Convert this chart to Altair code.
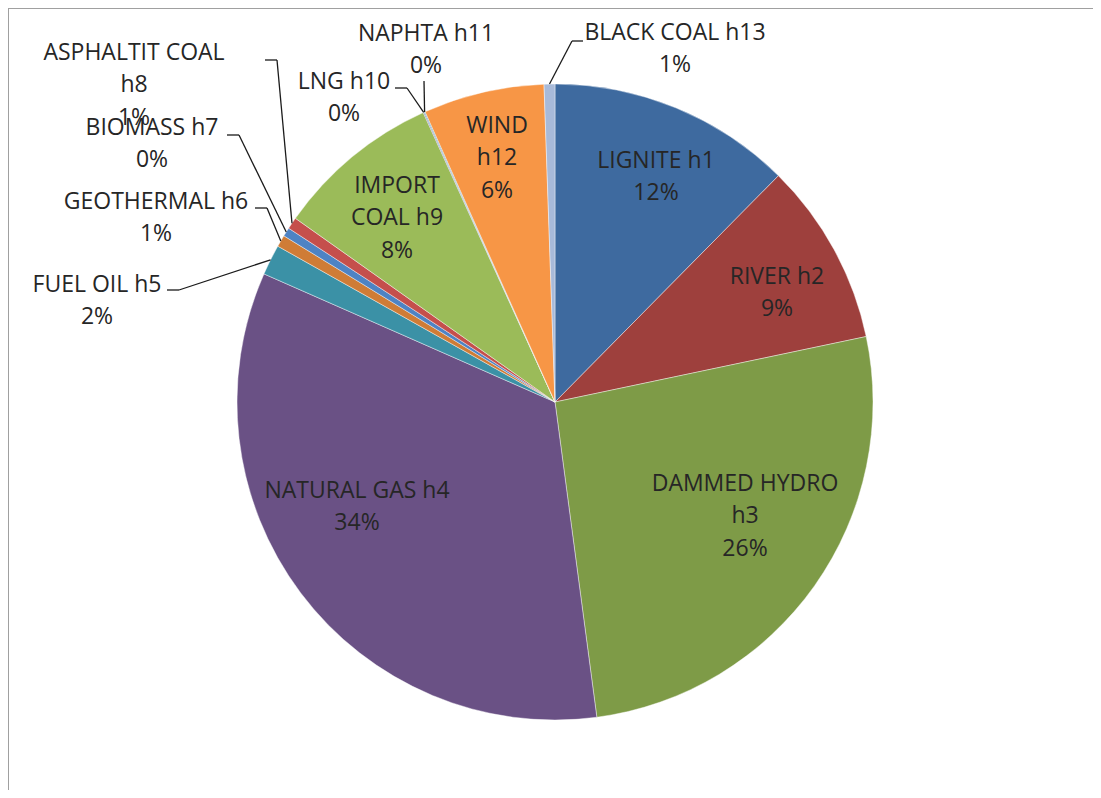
import math
import altair as alt
import pandas as pd

# ---------------- data ----------------
sources = ["LIGNITE h1", "RIVER h2", "DAMMED HYDRO h3", "NATURAL GAS h4",
           "FUEL OIL h5", "GEOTHERMAL h6", "BIOMASS h7", "ASPHALTIT COAL h8",
           "IMPORT COAL h9", "LNG h10", "NAPHTA h11", "WIND h12", "BLACK COAL h13"]
shares = [12.4, 9.3, 26.2, 33.7, 1.55, 0.6, 0.45, 0.6, 8.4, 0.05, 0.05, 6.15, 0.55]
label_names = ["LIGNITE h1", "RIVER h2", "DAMMED HYDRO\nh3", "NATURAL GAS h4",
               "FUEL OIL h5", "GEOTHERMAL h6", "BIOMASS h7", "ASPHALTIT COAL\nh8",
               "IMPORT\nCOAL h9", "LNG h10", "NAPHTA h11", "WIND\nh12", "BLACK COAL h13"]
colors = ["#3E6A9F", "#9E403D", "#7E9B47", "#6A5185", "#3B91A6", "#CF7C36",
          "#4E83C4", "#C54F4C", "#9BBB59", "#8064A2", "#4BACC6", "#F79646", "#A8BAD9"]

# ---------------- layout (page pixels) ----------------
M = 8                       # page margin
W, H = 1085, 782            # chart size
CX, CY, R = 555 - M, 402 - M, 318
LH = 32.5                   # label line height
# label block centres (page coords)
label_pos = {
    "LIGNITE h1": (656, 177), "RIVER h2": (777, 293), "DAMMED HYDRO h3": (745, 516),
    "NATURAL GAS h4": (357, 507), "FUEL OIL h5": (97, 301), "GEOTHERMAL h6": (156, 218),
    "BIOMASS h7": (152, 144), "ASPHALTIT COAL h8": (134, 85), "IMPORT COAL h9": (397, 218),
    "LNG h10": (344, 98), "NAPHTA h11": (426, 50), "WIND h12": (497, 158),
    "BLACK COAL h13": (675, 49),
}
# leader lines: label-side start, elbow (page coords); pie end comes from the data
leaders = {
    "FUEL OIL h5": [(167, 290), (179, 290)],
    "GEOTHERMAL h6": [(255, 208), (267, 208)],
    "BIOMASS h7": [(227, 135), (239, 135)],
    "ASPHALTIT COAL h8": [(265, 60), (277, 60)],
    "LNG h10": [(395, 88), (407, 88)],
    "NAPHTA h11": [(424, 81), (424, 81)],
    "BLACK COAL h13": [(583, 41), (572, 41)],
}

total = sum(shares)
pct = [f"{math.floor(v / total * 100 + 0.5)}%" for v in shares]
texts = [n + "\n" + p for n, p in zip(label_names, pct)]

df = pd.DataFrame({"source": sources, "share": shares, "idx": range(len(sources))})

lab = pd.DataFrame({
    "text": texts,
    "lx": [label_pos[s][0] - M for s in sources],
    "ly": [label_pos[s][1] - M - (t.count("\n")) * LH / 2 for s, t in zip(sources, texts)],
})

# leader line segments
cum = 0.0
mids = {}
for s, v in zip(sources, shares):
    mids[s] = (cum + v / 2) / total * 2 * math.pi
    cum += v
segs = []
for s, pts in leaders.items():
    a = mids[s]
    ex, ey = CX + R * math.sin(a), CY - R * math.cos(a)
    (x0, y0), (x1, y1) = pts
    segs.append({"x": x0 - M, "y": y0 - M, "x2": x1 - M, "y2": y1 - M})
    segs.append({"x": x1 - M, "y": y1 - M, "x2": ex, "y2": ey})
seg_df = pd.DataFrame(segs)

frame_df = pd.DataFrame([{"x": 0, "y": 0, "x2": W, "y2": 0},
                         {"x": 0, "y": 0, "x2": 0, "y2": H}])

pie = alt.Chart(df).mark_arc(radius=R, stroke="white", strokeWidth=0.6, strokeOpacity=0.7).encode(
    theta=alt.Theta("share:Q", stack=True),
    order=alt.Order("idx:Q"),
    color=alt.Color("source:N", scale=alt.Scale(domain=sources, range=colors), legend=None),
    x=alt.value(CX), y=alt.value(CY),
)

labels = alt.Chart(lab).mark_text(
    font="Open Sans", fontSize=23, color="#262626", lineBreak="\n", lineHeight=LH,
    align="center", baseline="middle",
).encode(
    x=alt.X("lx:Q", scale=None), y=alt.Y("ly:Q", scale=None), text="text:N",
)

lines = alt.Chart(seg_df).mark_rule(color="#1a1a1a", strokeWidth=1.3).encode(
    x=alt.X("x:Q", scale=None), y=alt.Y("y:Q", scale=None),
    x2="x2:Q", y2="y2:Q",
)

frame = alt.Chart(frame_df).mark_rule(color="#a0a0a0", strokeWidth=2).encode(
    x=alt.X("x:Q", scale=None), y=alt.Y("y:Q", scale=None),
    x2="x2:Q", y2="y2:Q",
)

chart = alt.layer(frame, pie, lines, labels).properties(
    width=W, height=H, padding=0, autosize="none",
).configure_view(stroke=None).configure(background="white")

chart.save("out.html", embed_options={"renderer": "svg", "actions": False})
